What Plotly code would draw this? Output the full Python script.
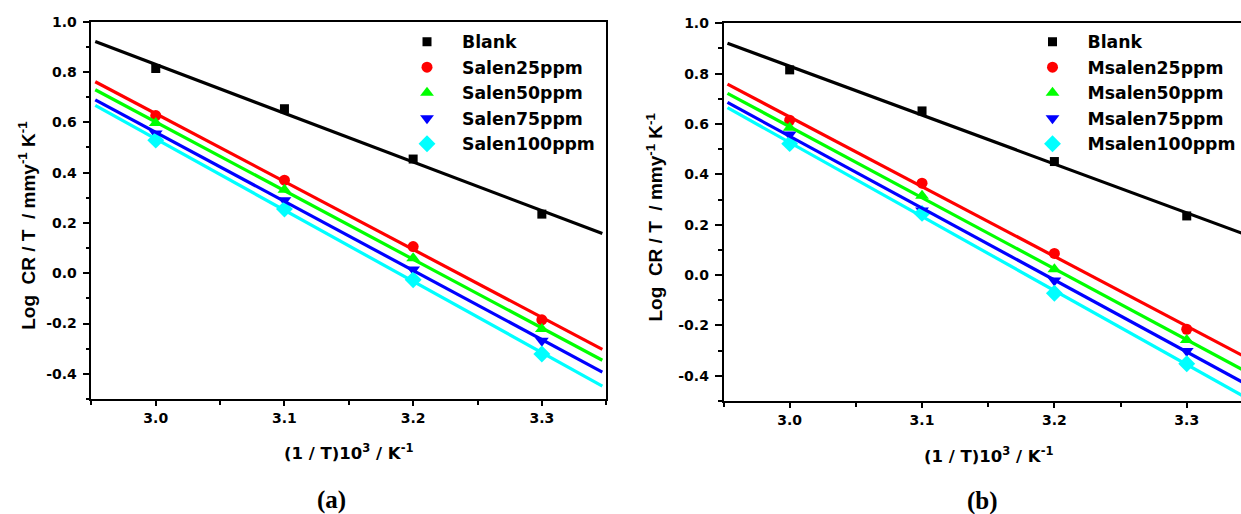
import numpy as np
import plotly.graph_objects as go

# Arrhenius-type data: log(CR/T) versus 1000/T
inv_T = [3.0, 3.1, 3.2, 3.3]

blank_a = [0.814, 0.654, 0.454, 0.235]
salen25 = [0.627, 0.370, 0.106, -0.185]
salen50 = [0.597, 0.332, 0.060, -0.222]
salen75 = [0.556, 0.290, 0.015, -0.268]
salen100 = [0.529, 0.255, -0.026, -0.321]

blank_b = [0.815, 0.652, 0.451, 0.235]
msalen25 = [0.615, 0.365, 0.086, -0.215]
msalen50 = [0.585, 0.315, 0.023, -0.258]
msalen75 = [0.558, 0.257, -0.021, -0.301]
msalen100 = [0.522, 0.245, -0.072, -0.352]

names_a = ["Blank", "Salen25ppm", "Salen50ppm", "Salen75ppm", "Salen100ppm"]
names_b = ["Blank", "Msalen25ppm", "Msalen50ppm", "Msalen75ppm", "Msalen100ppm"]
colors = ["#000000", "#ff0000", "#00ff00", "#0000ff", "#00ffff"]
symbols = ["square", "circle", "triangle-up", "triangle-down", "diamond"]
sizes = [9, 11, 12, 12, 13]

y_tickvals = [-0.4, -0.2, 0.0, 0.2, 0.4, 0.6, 0.8, 1.0]
y_ticktext = ["-0.4", "-0.2", "0.0", "0.2", "0.4", "0.6", "0.8", "1.0"]
y_minor = [-0.5, -0.3, -0.1, 0.1, 0.3, 0.5, 0.7, 0.9]
x_tickvals = [3.0, 3.1, 3.2, 3.3]
x_ticktext = ["3.0", "3.1", "3.2", "3.3"]
x_minor = [2.95, 3.05, 3.15, 3.25, 3.35]

# extent of the fitted straight lines
fit_span = np.array([2.953, 3.347])

W, H = 1241, 514
BOLD_SANS = "DejaVu Sans"


def px(x):
    return x / W


def py(y):
    return 1 - y / H


fig = go.Figure()

panels = [
    ("x", "y", "legend", names_a, [blank_a, salen25, salen50, salen75, salen100]),
    ("x2", "y2", "legend2", names_b, [blank_b, msalen25, msalen50, msalen75, msalen100]),
]

for xa, ya, leg, names, series in panels:
    # scatter points first so the fitted lines sit on top
    for name, vals, c, s, sz in zip(names, series, colors, symbols, sizes):
        fig.add_trace(go.Scatter(
            x=inv_T, y=vals, mode="markers", name=name, legend=leg,
            marker=dict(symbol=s, size=sz, color=c, line=dict(width=0)),
            xaxis=xa, yaxis=ya, cliponaxis=False,
        ))
    for name, vals, c in zip(names, series, colors):
        slope, intercept = np.polyfit(inv_T, vals, 1)
        fig.add_trace(go.Scatter(
            x=fit_span, y=slope * fit_span + intercept, mode="lines",
            line=dict(color=c, width=3.2), showlegend=False,
            xaxis=xa, yaxis=ya, hoverinfo="skip",
        ))

tick_font = dict(family=BOLD_SANS, size=14, color="black", weight="bold")
axis_common = dict(
    showline=True, linecolor="black", linewidth=1.5, showgrid=False,
    zeroline=False, ticks="outside", tickcolor="black", tickwidth=1.5,
    tickfont=tick_font, tickmode="array",
)
minor_common = dict(ticks="outside", ticklen=4, tickcolor="black", tickwidth=1.5)
legend_font = dict(family=BOLD_SANS, size=17.3, color="black", weight="bold")

fig.update_layout(
    width=W, height=H,
    margin=dict(l=0, r=0, t=0, b=0, autoexpand=False),
    paper_bgcolor="white", plot_bgcolor="white",
    xaxis=dict(axis_common, domain=[px(91.4), px(606.2)], range=[2.95, 3.35],
               anchor="y", mirror=True, ticklen=5, tickvals=x_tickvals,
               ticktext=x_ticktext, ticklabelstandoff=0,
               minor=dict(minor_common, tickvals=x_minor)),
    yaxis=dict(axis_common, domain=[py(399), py(21.7)], range=[-0.5, 1.0],
               anchor="x", mirror=True, ticklen=7, tickvals=y_tickvals,
               ticktext=y_ticktext, ticklabelstandoff=3,
               minor=dict(minor_common, tickvals=y_minor)),
    xaxis2=dict(axis_common, domain=[px(723.5), 1.0], range=[2.95, 3.341],
                anchor="y2", mirror=True, ticklen=5, tickvals=x_tickvals,
                ticktext=x_ticktext, ticklabelstandoff=0,
                minor=dict(minor_common, tickvals=x_minor)),
    yaxis2=dict(axis_common, domain=[py(401), py(23.3)], range=[-0.5, 1.0],
                anchor="x2", mirror=False, ticklen=7, tickvals=y_tickvals,
                ticktext=y_ticktext, ticklabelstandoff=3,
                minor=dict(minor_common, tickvals=y_minor)),
    legend=dict(x=px(392), y=py(24), xanchor="left", yanchor="top",
                bgcolor="rgba(0,0,0,0)", itemwidth=60, tracegroupgap=0,
                font=legend_font),
    legend2=dict(x=px(1017.5), y=py(24), xanchor="left", yanchor="top",
                 bgcolor="rgba(0,0,0,0)", itemwidth=60, tracegroupgap=0,
                 font=legend_font),
    showlegend=True,
)

title_font = dict(family=BOLD_SANS, size=16.5, color="black", weight="bold")
ytitle_font = dict(family="Liberation Sans", size=19, color="black", weight="bold")
label_font = dict(family="Liberation Serif", size=25, color="black", weight="bold")

ytitle = "Log\u00a0 CR / T\u00a0 / mmy<sup>-1</sup> K<sup>-1</sup>"
xtitle = "(1 / T)10<sup>3</sup> / K<sup>-1</sup>"

annotations = [
    dict(text=ytitle, x=px(27), y=py(225.8), textangle=-90, font=ytitle_font),
    dict(text=ytitle, x=px(654), y=py(217.5), textangle=-90, font=ytitle_font),
    dict(text=xtitle, x=px(348), y=py(452), font=title_font),
    dict(text=xtitle, x=px(988), y=py(455), font=title_font),
    dict(text="(a)", x=px(331.5), y=py(500), font=label_font),
    dict(text="(b)", x=px(983), y=py(501), font=label_font),
]
for a in annotations:
    fig.add_annotation(xref="paper", yref="paper", xanchor="center",
                       yanchor="middle", showarrow=False, **a)

fig.write_html("out.html")
